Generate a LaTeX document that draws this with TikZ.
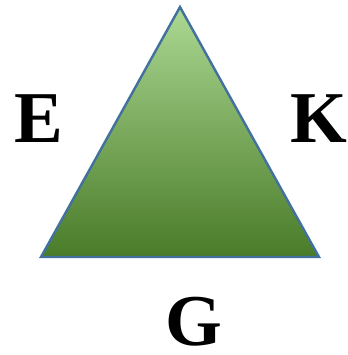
\documentclass[tikz,border=0pt]{standalone}
\usepackage{fontspec}
\setmainfont{Liberation Serif}
\definecolor{edgeblue}{HTML}{41719C}
\definecolor{lightgreen}{HTML}{ACD893}
\definecolor{midgreen}{HTML}{6CAE40}
\definecolor{darkgreen}{HTML}{497B28}
\tikzstyle{corner}=[font=\fontsize{73}{73}\selectfont\bfseries, inner sep=0pt]

\begin{document}
\begin{tikzpicture}[x=1pt, y=-1pt]
	\useasboundingbox (0,0) rectangle (347,355);
	\coordinate (top) at (180,7);
	\coordinate (bl) at (41,257);
	\coordinate (br) at (319,257);

	\shade[top color=lightgreen, middle color=midgreen, bottom color=darkgreen] (top) -- (br) -- (bl) -- cycle;
	\draw[edgeblue, line width=2.4pt, line join=miter] (top) -- (br) -- (bl) -- cycle;

	\node[corner] (e) at (39,118.5) {E};
	\node[corner] (k) at (319,118.5) {K};
	\node[corner] (g) at (193.5,322) {G};
\end{tikzpicture}
\end{document}
